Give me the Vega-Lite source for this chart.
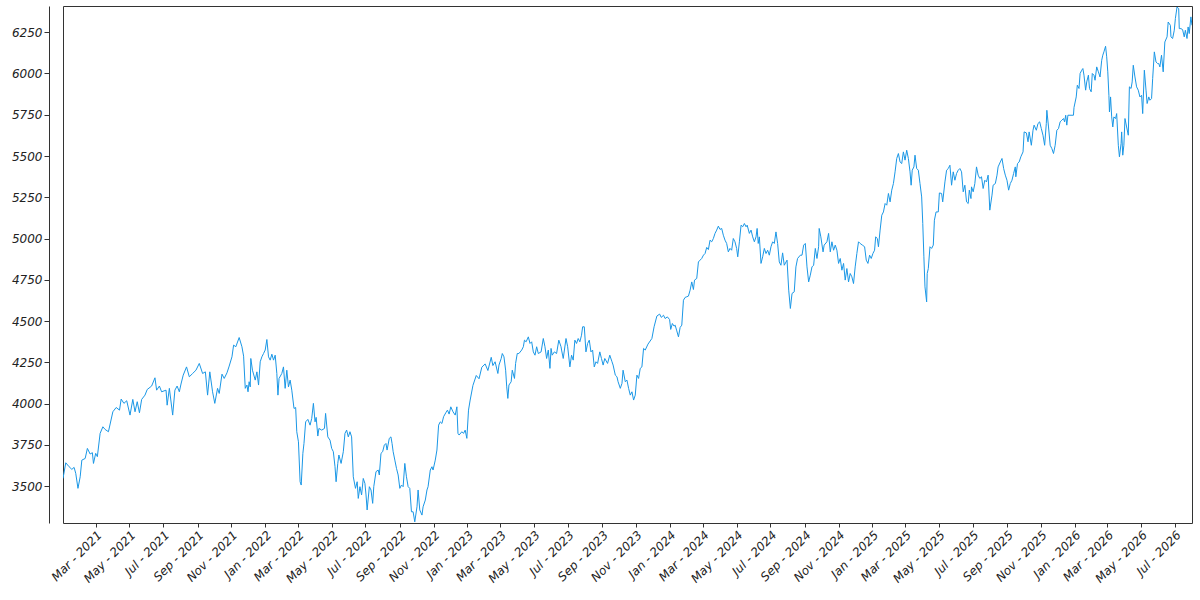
{
  "$schema": "https://vega.github.io/schema/vega-lite/v6.json",
  "autosize": {"type": "none"},
  "padding": {"left": 63, "top": 6, "right": 8, "bottom": 77},
  "width": 1129,
  "height": 517,
  "background": "white",
  "config": {
    "view": {"stroke": "#333333", "strokeWidth": 1},
    "axis": {"labelFont": "DejaVu Sans", "labelFontStyle": "italic", "labelFontSize": 12, "labelColor": "#222222", "tickColor": "#333333", "domainColor": "#333333", "grid": false, "title": null}
  },
  "data": {"values": [
{"date":"2021-01-01","value":3546},{"date":"2021-01-06","value":3641},{"date":"2021-01-12","value":3617},{"date":"2021-01-17","value":3601},{"date":"2021-01-21","value":3613},{"date":"2021-01-24","value":3577},{"date":"2021-01-28","value":3486},{"date":"2021-02-01","value":3556},{"date":"2021-02-04","value":3657},{"date":"2021-02-10","value":3667},{"date":"2021-02-14","value":3728},{"date":"2021-02-19","value":3694},{"date":"2021-02-23","value":3702},{"date":"2021-02-25","value":3637},{"date":"2021-03-01","value":3698},{"date":"2021-03-04","value":3678},{"date":"2021-03-09","value":3819},{"date":"2021-03-14","value":3859},{"date":"2021-03-18","value":3843},{"date":"2021-03-24","value":3829},
{"date":"2021-04-01","value":3950},{"date":"2021-04-07","value":3976},{"date":"2021-04-13","value":3960},{"date":"2021-04-16","value":4027},{"date":"2021-04-21","value":4001},{"date":"2021-04-26","value":4017},{"date":"2021-05-02","value":3930},{"date":"2021-05-07","value":4025},{"date":"2021-05-11","value":3950},{"date":"2021-05-15","value":4011},{"date":"2021-05-19","value":3944},{"date":"2021-05-23","value":4025},{"date":"2021-05-29","value":4051},{"date":"2021-06-02","value":4085},{"date":"2021-06-10","value":4106},{"date":"2021-06-16","value":4156},{"date":"2021-06-19","value":4081},{"date":"2021-06-24","value":4106},{"date":"2021-06-28","value":4071},
{"date":"2021-07-06","value":4081},{"date":"2021-07-08","value":3990},{"date":"2021-07-12","value":4092},{"date":"2021-07-18","value":3930},{"date":"2021-07-22","value":4081},{"date":"2021-07-26","value":4106},{"date":"2021-07-30","value":4071},{"date":"2021-08-02","value":4118},{"date":"2021-08-06","value":4172},{"date":"2021-08-12","value":4222},{"date":"2021-08-17","value":4162},{"date":"2021-08-23","value":4182},{"date":"2021-08-29","value":4202},{"date":"2021-09-04","value":4243},{"date":"2021-09-10","value":4182},{"date":"2021-09-15","value":4192},{"date":"2021-09-19","value":4051},{"date":"2021-09-23","value":4192},{"date":"2021-09-28","value":4071},
{"date":"2021-10-02","value":4001},{"date":"2021-10-07","value":4092},{"date":"2021-10-10","value":4061},{"date":"2021-10-15","value":4178},{"date":"2021-10-19","value":4152},{"date":"2021-10-24","value":4186},{"date":"2021-10-28","value":4227},{"date":"2021-11-02","value":4283},{"date":"2021-11-05","value":4354},{"date":"2021-11-09","value":4344},{"date":"2021-11-15","value":4400},{"date":"2021-11-20","value":4344},{"date":"2021-11-23","value":4287},{"date":"2021-11-26","value":4092},{"date":"2021-11-29","value":4112},{"date":"2021-12-01","value":4071},{"date":"2021-12-03","value":4132},{"date":"2021-12-05","value":4101},{"date":"2021-12-06","value":4273},{"date":"2021-12-09","value":4202},{"date":"2021-12-14","value":4142},{"date":"2021-12-17","value":4192},{"date":"2021-12-20","value":4112},{"date":"2021-12-23","value":4253},{"date":"2021-12-26","value":4283},{"date":"2021-12-29","value":4303},
{"date":"2022-01-01","value":4324},{"date":"2022-01-04","value":4388},{"date":"2022-01-07","value":4283},{"date":"2022-01-10","value":4263},{"date":"2022-01-13","value":4299},{"date":"2022-01-16","value":4263},{"date":"2022-01-19","value":4293},{"date":"2022-01-22","value":4182},{"date":"2022-01-24","value":4051},{"date":"2022-01-26","value":4152},{"date":"2022-01-31","value":4182},{"date":"2022-02-03","value":4222},{"date":"2022-02-06","value":4092},{"date":"2022-02-09","value":4202},{"date":"2022-02-12","value":4101},{"date":"2022-02-15","value":4142},{"date":"2022-02-18","value":4081},{"date":"2022-02-22","value":3970},{"date":"2022-02-25","value":3976},{"date":"2022-02-27","value":3829},
{"date":"2022-03-02","value":3768},{"date":"2022-03-05","value":3526},{"date":"2022-03-07","value":3506},{"date":"2022-03-10","value":3698},{"date":"2022-03-12","value":3758},{"date":"2022-03-15","value":3889},{"date":"2022-03-19","value":3904},{"date":"2022-03-23","value":3869},{"date":"2022-03-26","value":3910},{"date":"2022-03-29","value":4001},{"date":"2022-04-01","value":3889},{"date":"2022-04-03","value":3916},{"date":"2022-04-06","value":3803},{"date":"2022-04-08","value":3849},{"date":"2022-04-13","value":3839},{"date":"2022-04-18","value":3849},{"date":"2022-04-20","value":3940},{"date":"2022-04-24","value":3798},{"date":"2022-04-28","value":3778},
{"date":"2022-05-01","value":3728},{"date":"2022-05-04","value":3708},{"date":"2022-05-07","value":3617},{"date":"2022-05-09","value":3526},{"date":"2022-05-12","value":3637},{"date":"2022-05-14","value":3688},{"date":"2022-05-18","value":3637},{"date":"2022-05-22","value":3708},{"date":"2022-05-25","value":3819},{"date":"2022-05-28","value":3839},{"date":"2022-05-31","value":3798},{"date":"2022-06-03","value":3829},{"date":"2022-06-06","value":3798},{"date":"2022-06-09","value":3556},{"date":"2022-06-13","value":3486},{"date":"2022-06-16","value":3526},{"date":"2022-06-18","value":3425},{"date":"2022-06-21","value":3496},{"date":"2022-06-24","value":3446},{"date":"2022-06-27","value":3546},{"date":"2022-06-30","value":3516},
{"date":"2022-07-02","value":3446},{"date":"2022-07-04","value":3355},{"date":"2022-07-08","value":3496},{"date":"2022-07-11","value":3476},{"date":"2022-07-14","value":3395},{"date":"2022-07-16","value":3496},{"date":"2022-07-20","value":3587},{"date":"2022-07-24","value":3597},{"date":"2022-07-26","value":3567},{"date":"2022-07-29","value":3698},{"date":"2022-08-01","value":3708},{"date":"2022-08-04","value":3748},{"date":"2022-08-07","value":3758},{"date":"2022-08-09","value":3718},{"date":"2022-08-13","value":3789},{"date":"2022-08-16","value":3798},{"date":"2022-08-18","value":3758},{"date":"2022-08-20","value":3708},{"date":"2022-08-23","value":3657},{"date":"2022-08-26","value":3607},{"date":"2022-08-29","value":3567},
{"date":"2022-09-01","value":3486},{"date":"2022-09-04","value":3506},{"date":"2022-09-07","value":3496},{"date":"2022-09-10","value":3637},{"date":"2022-09-13","value":3556},{"date":"2022-09-16","value":3496},{"date":"2022-09-19","value":3486},{"date":"2022-09-22","value":3344},{"date":"2022-09-25","value":3344},{"date":"2022-09-28","value":3283},{"date":"2022-10-02","value":3374},{"date":"2022-10-04","value":3476},{"date":"2022-10-07","value":3355},{"date":"2022-10-11","value":3324},{"date":"2022-10-13","value":3374},{"date":"2022-10-17","value":3415},{"date":"2022-10-20","value":3476},{"date":"2022-10-22","value":3496},{"date":"2022-10-26","value":3597},{"date":"2022-10-29","value":3617},{"date":"2022-10-31","value":3597},
{"date":"2022-11-04","value":3657},{"date":"2022-11-07","value":3718},{"date":"2022-11-10","value":3869},{"date":"2022-11-13","value":3889},{"date":"2022-11-16","value":3879},{"date":"2022-11-19","value":3920},{"date":"2022-11-23","value":3944},{"date":"2022-11-26","value":3960},{"date":"2022-11-29","value":3936},{"date":"2022-12-02","value":3980},{"date":"2022-12-06","value":3950},{"date":"2022-12-10","value":3930},{"date":"2022-12-13","value":3980},{"date":"2022-12-15","value":3819},{"date":"2022-12-17","value":3809},{"date":"2022-12-22","value":3829},{"date":"2022-12-25","value":3819},{"date":"2022-12-28","value":3839},{"date":"2022-12-31","value":3789},
{"date":"2023-01-03","value":3960},{"date":"2023-01-06","value":4021},{"date":"2023-01-11","value":4110},{"date":"2023-01-17","value":4170},{"date":"2023-01-22","value":4150},{"date":"2023-01-27","value":4220},{"date":"2023-02-02","value":4240},{"date":"2023-02-07","value":4200},{"date":"2023-02-13","value":4280},{"date":"2023-02-16","value":4230},{"date":"2023-02-20","value":4253},{"date":"2023-02-25","value":4182},{"date":"2023-02-27","value":4233},{"date":"2023-03-03","value":4273},{"date":"2023-03-05","value":4303},{"date":"2023-03-08","value":4283},{"date":"2023-03-11","value":4202},{"date":"2023-03-13","value":4101},{"date":"2023-03-15","value":4031},{"date":"2023-03-17","value":4112},{"date":"2023-03-21","value":4132},{"date":"2023-03-23","value":4202},{"date":"2023-03-27","value":4152},{"date":"2023-03-29","value":4243},
{"date":"2023-04-01","value":4303},{"date":"2023-04-04","value":4303},{"date":"2023-04-09","value":4324},{"date":"2023-04-12","value":4344},{"date":"2023-04-14","value":4384},{"date":"2023-04-17","value":4374},{"date":"2023-04-21","value":4404},{"date":"2023-04-24","value":4364},{"date":"2023-04-27","value":4374},{"date":"2023-04-30","value":4313},{"date":"2023-05-03","value":4293},{"date":"2023-05-06","value":4344},{"date":"2023-05-09","value":4303},{"date":"2023-05-14","value":4313},{"date":"2023-05-18","value":4394},{"date":"2023-05-21","value":4344},{"date":"2023-05-24","value":4273},{"date":"2023-05-27","value":4324},{"date":"2023-05-30","value":4213},{"date":"2023-06-01","value":4334},{"date":"2023-06-03","value":4293},{"date":"2023-06-07","value":4313},{"date":"2023-06-11","value":4303},{"date":"2023-06-15","value":4384},{"date":"2023-06-19","value":4344},{"date":"2023-06-20","value":4324},{"date":"2023-06-23","value":4273},{"date":"2023-06-28","value":4394},
{"date":"2023-07-01","value":4344},{"date":"2023-07-05","value":4222},{"date":"2023-07-08","value":4293},{"date":"2023-07-11","value":4263},{"date":"2023-07-14","value":4384},{"date":"2023-07-17","value":4364},{"date":"2023-07-20","value":4394},{"date":"2023-07-23","value":4374},{"date":"2023-07-26","value":4414},{"date":"2023-07-28","value":4465},{"date":"2023-07-31","value":4465},{"date":"2023-08-03","value":4313},{"date":"2023-08-06","value":4364},{"date":"2023-08-09","value":4384},{"date":"2023-08-12","value":4313},{"date":"2023-08-15","value":4324},{"date":"2023-08-18","value":4222},{"date":"2023-08-21","value":4253},{"date":"2023-08-24","value":4243},{"date":"2023-08-28","value":4313},{"date":"2023-08-31","value":4273},
{"date":"2023-09-03","value":4233},{"date":"2023-09-06","value":4273},{"date":"2023-09-11","value":4243},{"date":"2023-09-15","value":4293},{"date":"2023-09-19","value":4253},{"date":"2023-09-21","value":4233},{"date":"2023-09-25","value":4172},{"date":"2023-09-28","value":4162},{"date":"2023-09-30","value":4132},{"date":"2023-10-04","value":4092},{"date":"2023-10-07","value":4122},{"date":"2023-10-09","value":4202},{"date":"2023-10-13","value":4132},{"date":"2023-10-16","value":4142},{"date":"2023-10-19","value":4092},{"date":"2023-10-22","value":4051},{"date":"2023-10-25","value":4071},{"date":"2023-10-28","value":4021},{"date":"2023-10-31","value":4051},
{"date":"2023-11-03","value":4172},{"date":"2023-11-06","value":4152},{"date":"2023-11-09","value":4213},{"date":"2023-11-12","value":4222},{"date":"2023-11-15","value":4334},{"date":"2023-11-18","value":4324},{"date":"2023-11-23","value":4360},{"date":"2023-11-30","value":4394},{"date":"2023-12-04","value":4465},{"date":"2023-12-09","value":4530},{"date":"2023-12-14","value":4542},{"date":"2023-12-17","value":4522},{"date":"2023-12-21","value":4535},{"date":"2023-12-24","value":4515},{"date":"2023-12-28","value":4525},
{"date":"2024-01-01","value":4509},{"date":"2024-01-03","value":4449},{"date":"2024-01-06","value":4485},{"date":"2024-01-09","value":4469},{"date":"2024-01-11","value":4475},{"date":"2024-01-14","value":4440},{"date":"2024-01-17","value":4404},{"date":"2024-01-20","value":4461},{"date":"2024-01-23","value":4475},{"date":"2024-01-26","value":4626},{"date":"2024-01-29","value":4643},{"date":"2024-02-01","value":4647},{"date":"2024-02-04","value":4651},{"date":"2024-02-07","value":4687},{"date":"2024-02-10","value":4737},{"date":"2024-02-13","value":4691},{"date":"2024-02-15","value":4748},{"date":"2024-02-19","value":4758},{"date":"2024-02-22","value":4858},{"date":"2024-02-25","value":4869},{"date":"2024-02-28","value":4879},
{"date":"2024-03-02","value":4899},{"date":"2024-03-05","value":4909},{"date":"2024-03-08","value":4946},{"date":"2024-03-11","value":4933},{"date":"2024-03-14","value":4990},{"date":"2024-03-17","value":4980},{"date":"2024-03-20","value":5000},{"date":"2024-03-23","value":5031},{"date":"2024-03-26","value":5051},{"date":"2024-03-29","value":5075},{"date":"2024-04-01","value":5055},{"date":"2024-04-04","value":5061},{"date":"2024-04-07","value":5020},{"date":"2024-04-10","value":4990},{"date":"2024-04-13","value":4970},{"date":"2024-04-16","value":4919},{"date":"2024-04-19","value":4940},{"date":"2024-04-22","value":4929},{"date":"2024-04-25","value":5000},{"date":"2024-04-28","value":4980},
{"date":"2024-05-01","value":4940},{"date":"2024-05-03","value":4889},{"date":"2024-05-06","value":4980},{"date":"2024-05-09","value":5081},{"date":"2024-05-12","value":5071},{"date":"2024-05-15","value":5091},{"date":"2024-05-18","value":5071},{"date":"2024-05-20","value":5081},{"date":"2024-05-24","value":5031},{"date":"2024-05-27","value":5051},{"date":"2024-05-30","value":5010},{"date":"2024-06-02","value":4980},{"date":"2024-06-05","value":5010},{"date":"2024-06-07","value":5061},{"date":"2024-06-09","value":4970},{"date":"2024-06-11","value":5010},{"date":"2024-06-14","value":4849},{"date":"2024-06-17","value":4889},{"date":"2024-06-20","value":4940},{"date":"2024-06-23","value":4909},{"date":"2024-06-26","value":4929},{"date":"2024-06-29","value":4899},
{"date":"2024-07-02","value":4950},{"date":"2024-07-05","value":4980},{"date":"2024-07-08","value":4970},{"date":"2024-07-11","value":5040},{"date":"2024-07-14","value":4970},{"date":"2024-07-17","value":4858},{"date":"2024-07-20","value":4838},{"date":"2024-07-23","value":4913},{"date":"2024-07-26","value":4838},{"date":"2024-07-31","value":4869},{"date":"2024-08-03","value":4687},{"date":"2024-08-06","value":4576},{"date":"2024-08-09","value":4667},{"date":"2024-08-13","value":4677},{"date":"2024-08-16","value":4828},{"date":"2024-08-19","value":4879},{"date":"2024-08-24","value":4899},{"date":"2024-08-27","value":4899},{"date":"2024-08-30","value":4960},
{"date":"2024-09-02","value":4970},{"date":"2024-09-05","value":4828},{"date":"2024-09-08","value":4737},{"date":"2024-09-11","value":4778},{"date":"2024-09-14","value":4828},{"date":"2024-09-17","value":4838},{"date":"2024-09-20","value":4940},{"date":"2024-09-23","value":4879},{"date":"2024-09-26","value":4950},{"date":"2024-09-27","value":5061},{"date":"2024-09-30","value":5010},{"date":"2024-10-04","value":4919},{"date":"2024-10-06","value":4960},{"date":"2024-10-11","value":4980},{"date":"2024-10-14","value":5031},{"date":"2024-10-17","value":4919},{"date":"2024-10-20","value":4980},{"date":"2024-10-23","value":4929},{"date":"2024-10-26","value":4960},{"date":"2024-10-29","value":4929},
{"date":"2024-11-01","value":4849},{"date":"2024-11-04","value":4879},{"date":"2024-11-07","value":4808},{"date":"2024-11-10","value":4849},{"date":"2024-11-13","value":4748},{"date":"2024-11-16","value":4818},{"date":"2024-11-19","value":4737},{"date":"2024-11-22","value":4788},{"date":"2024-11-25","value":4768},{"date":"2024-11-28","value":4727},{"date":"2024-12-01","value":4828},{"date":"2024-12-04","value":4909},{"date":"2024-12-07","value":4980},{"date":"2024-12-10","value":4970},{"date":"2024-12-14","value":4960},{"date":"2024-12-18","value":4950},{"date":"2024-12-21","value":4869},{"date":"2024-12-24","value":4849},{"date":"2024-12-27","value":4899},{"date":"2024-12-30","value":4879},
{"date":"2025-01-02","value":4909},{"date":"2025-01-05","value":4929},{"date":"2025-01-07","value":5010},{"date":"2025-01-10","value":5000},{"date":"2025-01-12","value":4950},{"date":"2025-01-15","value":5051},{"date":"2025-01-18","value":5141},{"date":"2025-01-21","value":5161},{"date":"2025-01-24","value":5212},{"date":"2025-01-27","value":5202},{"date":"2025-01-30","value":5273},{"date":"2025-02-02","value":5222},{"date":"2025-02-05","value":5293},{"date":"2025-02-08","value":5333},{"date":"2025-02-11","value":5404},{"date":"2025-02-14","value":5485},{"date":"2025-02-17","value":5515},{"date":"2025-02-20","value":5464},{"date":"2025-02-23","value":5454},{"date":"2025-02-26","value":5525},
{"date":"2025-03-01","value":5475},{"date":"2025-03-04","value":5535},{"date":"2025-03-07","value":5485},{"date":"2025-03-10","value":5404},{"date":"2025-03-12","value":5323},{"date":"2025-03-14","value":5414},{"date":"2025-03-17","value":5434},{"date":"2025-03-19","value":5505},{"date":"2025-03-22","value":5424},{"date":"2025-03-25","value":5414},{"date":"2025-03-28","value":5333},{"date":"2025-03-31","value":5252},{"date":"2025-04-02","value":5091},{"date":"2025-04-04","value":4889},{"date":"2025-04-06","value":4707},{"date":"2025-04-09","value":4616},{"date":"2025-04-10","value":4788},{"date":"2025-04-12","value":4818},{"date":"2025-04-15","value":4950},{"date":"2025-04-18","value":4940},{"date":"2025-04-21","value":4960},{"date":"2025-04-23","value":5111},{"date":"2025-04-26","value":5161},{"date":"2025-04-30","value":5161},
{"date":"2025-05-02","value":5276},{"date":"2025-05-06","value":5273},{"date":"2025-05-08","value":5222},{"date":"2025-05-12","value":5343},{"date":"2025-05-15","value":5414},{"date":"2025-05-18","value":5424},{"date":"2025-05-21","value":5444},{"date":"2025-05-24","value":5323},{"date":"2025-05-27","value":5404},{"date":"2025-05-30","value":5353},{"date":"2025-06-02","value":5394},{"date":"2025-06-05","value":5414},{"date":"2025-06-08","value":5424},{"date":"2025-06-11","value":5404},{"date":"2025-06-14","value":5283},{"date":"2025-06-17","value":5323},{"date":"2025-06-20","value":5222},{"date":"2025-06-23","value":5212},{"date":"2025-06-25","value":5293},{"date":"2025-06-28","value":5242},{"date":"2025-06-29","value":5313},
{"date":"2025-07-02","value":5283},{"date":"2025-07-05","value":5333},{"date":"2025-07-08","value":5434},{"date":"2025-07-11","value":5384},{"date":"2025-07-14","value":5364},{"date":"2025-07-17","value":5374},{"date":"2025-07-20","value":5303},{"date":"2025-07-23","value":5353},{"date":"2025-07-26","value":5343},{"date":"2025-07-29","value":5384},{"date":"2025-08-01","value":5172},{"date":"2025-08-05","value":5263},{"date":"2025-08-07","value":5323},{"date":"2025-08-11","value":5333},{"date":"2025-08-14","value":5384},{"date":"2025-08-16","value":5434},{"date":"2025-08-20","value":5464},{"date":"2025-08-23","value":5485},{"date":"2025-08-26","value":5424},{"date":"2025-08-29","value":5384},
{"date":"2025-09-01","value":5353},{"date":"2025-09-04","value":5293},{"date":"2025-09-07","value":5333},{"date":"2025-09-10","value":5353},{"date":"2025-09-13","value":5394},{"date":"2025-09-16","value":5434},{"date":"2025-09-17","value":5374},{"date":"2025-09-20","value":5454},{"date":"2025-09-23","value":5464},{"date":"2025-09-26","value":5495},{"date":"2025-09-30","value":5525},{"date":"2025-10-02","value":5646},{"date":"2025-10-06","value":5640},{"date":"2025-10-09","value":5586},{"date":"2025-10-11","value":5646},{"date":"2025-10-15","value":5565},{"date":"2025-10-18","value":5656},{"date":"2025-10-20","value":5687},{"date":"2025-10-24","value":5656},{"date":"2025-10-27","value":5697},{"date":"2025-10-30","value":5707},
{"date":"2025-11-02","value":5666},{"date":"2025-11-05","value":5626},{"date":"2025-11-08","value":5565},{"date":"2025-11-11","value":5697},{"date":"2025-11-12","value":5777},{"date":"2025-11-15","value":5676},{"date":"2025-11-18","value":5565},{"date":"2025-11-21","value":5545},{"date":"2025-11-24","value":5515},{"date":"2025-11-27","value":5565},{"date":"2025-11-30","value":5656},{"date":"2025-12-03","value":5666},{"date":"2025-12-06","value":5707},{"date":"2025-12-09","value":5717},{"date":"2025-12-12","value":5727},{"date":"2025-12-14","value":5707},{"date":"2025-12-16","value":5747},{"date":"2025-12-18","value":5687},{"date":"2025-12-20","value":5747},{"date":"2025-12-30","value":5747},{"date":"2025-12-31","value":5794},
{"date":"2026-01-04","value":5858},{"date":"2026-01-06","value":5929},{"date":"2026-01-09","value":5909},{"date":"2026-01-11","value":6000},{"date":"2026-01-14","value":6020},{"date":"2026-01-16","value":6030},{"date":"2026-01-18","value":5990},{"date":"2026-01-21","value":5899},{"date":"2026-01-23","value":5949},{"date":"2026-01-26","value":5990},{"date":"2026-01-28","value":5909},{"date":"2026-01-31","value":5889},{"date":"2026-02-02","value":6000},{"date":"2026-02-05","value":5990},{"date":"2026-02-07","value":5959},{"date":"2026-02-10","value":6040},{"date":"2026-02-13","value":6010},{"date":"2026-02-16","value":5979},{"date":"2026-02-19","value":6080},{"date":"2026-02-21","value":6111},{"date":"2026-02-23","value":6131},{"date":"2026-02-26","value":6165},{"date":"2026-02-28","value":6101},
{"date":"2026-03-02","value":6010},{"date":"2026-03-04","value":5868},{"date":"2026-03-05","value":5767},{"date":"2026-03-07","value":5858},{"date":"2026-03-09","value":5737},{"date":"2026-03-11","value":5676},{"date":"2026-03-13","value":5737},{"date":"2026-03-16","value":5727},{"date":"2026-03-18","value":5757},{"date":"2026-03-21","value":5565},{"date":"2026-03-23","value":5495},{"date":"2026-03-26","value":5576},{"date":"2026-03-27","value":5646},{"date":"2026-03-29","value":5505},{"date":"2026-03-31","value":5565},{"date":"2026-04-02","value":5727},{"date":"2026-04-05","value":5676},{"date":"2026-04-08","value":5626},{"date":"2026-04-10","value":5919},{"date":"2026-04-13","value":5909},{"date":"2026-04-15","value":5949},{"date":"2026-04-17","value":6050},{"date":"2026-04-20","value":5979},{"date":"2026-04-23","value":5919},{"date":"2026-04-26","value":5899},{"date":"2026-04-29","value":5858},
{"date":"2026-05-02","value":5868},{"date":"2026-05-04","value":5757},{"date":"2026-05-07","value":6020},{"date":"2026-05-10","value":5899},{"date":"2026-05-12","value":5818},{"date":"2026-05-15","value":5858},{"date":"2026-05-17","value":5838},{"date":"2026-05-20","value":5848},{"date":"2026-05-22","value":5969},{"date":"2026-05-25","value":6131},{"date":"2026-05-28","value":6070},{"date":"2026-05-31","value":6060},{"date":"2026-06-02","value":6060},{"date":"2026-06-04","value":6040},{"date":"2026-06-07","value":6111},{"date":"2026-06-10","value":6010},{"date":"2026-06-13","value":6191},{"date":"2026-06-17","value":6222},{"date":"2026-06-19","value":6312},{"date":"2026-06-23","value":6292},{"date":"2026-06-24","value":6222},{"date":"2026-06-27","value":6212},{"date":"2026-06-30","value":6262},
{"date":"2026-07-02","value":6333},{"date":"2026-07-05","value":6403},{"date":"2026-07-08","value":6393},{"date":"2026-07-09","value":6272},{"date":"2026-07-12","value":6272},{"date":"2026-07-15","value":6266},{"date":"2026-07-18","value":6222},{"date":"2026-07-20","value":6262},{"date":"2026-07-23","value":6212},{"date":"2026-07-25","value":6282},{"date":"2026-07-27","value":6242},{"date":"2026-07-30","value":6343},{"date":"2026-08-01","value":6292}
  ]},
  "mark": {"type": "line", "color": "#1a97e6", "strokeWidth": 1, "clip": true},
  "encoding": {
    "x": {
      "field": "date", "type": "temporal",
      "scale": {"domain": [{"year": 2021, "month": 1, "date": 1}, {"year": 2026, "month": 8, "date": 1}], "nice": false},
      "axis": {
        "format": "%b - %Y", "labelAngle": -45, "domain": false, "tickSize": 4, "labelPadding": 2,
        "labelOverlap": false, "labelFlush": false,
        "values": [
          {"year": 2021, "month": 3, "date": 1}, {"year": 2021, "month": 5, "date": 1}, {"year": 2021, "month": 7, "date": 1}, {"year": 2021, "month": 9, "date": 1}, {"year": 2021, "month": 11, "date": 1},
          {"year": 2022, "month": 1, "date": 1}, {"year": 2022, "month": 3, "date": 1}, {"year": 2022, "month": 5, "date": 1}, {"year": 2022, "month": 7, "date": 1}, {"year": 2022, "month": 9, "date": 1}, {"year": 2022, "month": 11, "date": 1},
          {"year": 2023, "month": 1, "date": 1}, {"year": 2023, "month": 3, "date": 1}, {"year": 2023, "month": 5, "date": 1}, {"year": 2023, "month": 7, "date": 1}, {"year": 2023, "month": 9, "date": 1}, {"year": 2023, "month": 11, "date": 1},
          {"year": 2024, "month": 1, "date": 1}, {"year": 2024, "month": 3, "date": 1}, {"year": 2024, "month": 5, "date": 1}, {"year": 2024, "month": 7, "date": 1}, {"year": 2024, "month": 9, "date": 1}, {"year": 2024, "month": 11, "date": 1},
          {"year": 2025, "month": 1, "date": 1}, {"year": 2025, "month": 3, "date": 1}, {"year": 2025, "month": 5, "date": 1}, {"year": 2025, "month": 7, "date": 1}, {"year": 2025, "month": 9, "date": 1}, {"year": 2025, "month": 11, "date": 1},
          {"year": 2026, "month": 1, "date": 1}, {"year": 2026, "month": 3, "date": 1}, {"year": 2026, "month": 5, "date": 1}, {"year": 2026, "month": 7, "date": 1}
        ]
      }
    },
    "y": {
      "field": "value", "type": "quantitative",
      "scale": {"domain": [3276, 6409], "nice": false, "zero": false},
      "axis": {
        "values": [3500, 3750, 4000, 4250, 4500, 4750, 5000, 5250, 5500, 5750, 6000, 6250],
        "format": "d", "offset": 14, "tickSize": 5, "labelPadding": 2, "domain": true
      }
    }
  }
}
